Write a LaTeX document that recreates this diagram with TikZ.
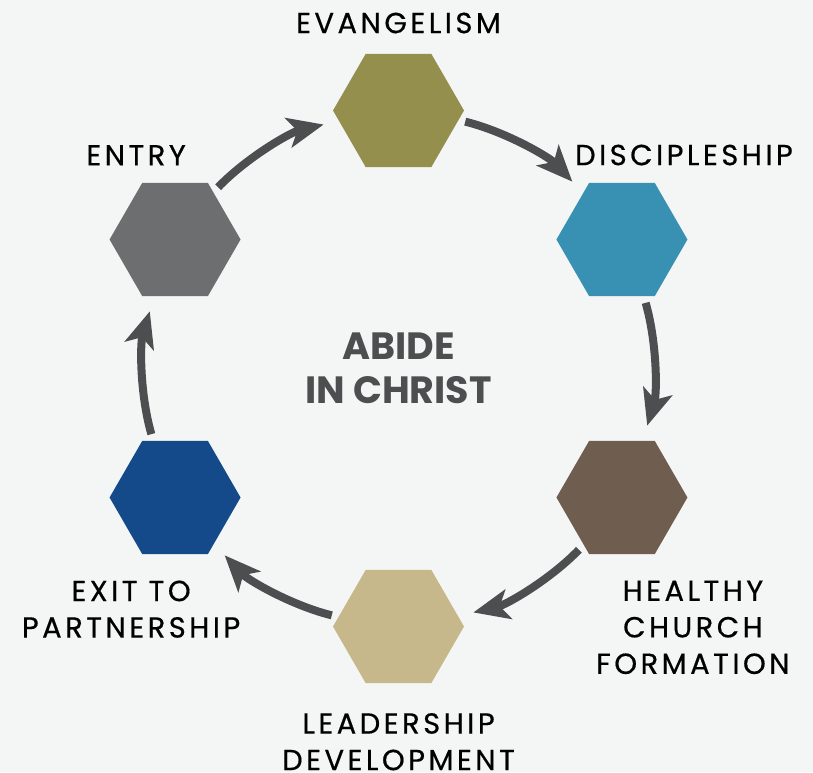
\documentclass[tikz,border=0pt]{standalone}
\usepackage{fontspec}
\setmainfont{Poppins}
\newfontfamily\labelfont[LetterSpace=12,FakeBold=0.5]{Poppins}
\usetikzlibrary{arrows.meta}
\usetikzlibrary{calc}
\usetikzlibrary{positioning}
\usetikzlibrary{shapes.geometric}
\definecolor{paper}{HTML}{F4F5F5}
\definecolor{arrowgray}{HTML}{4D4E50}
\definecolor{evancol}{HTML}{948F4D}
\definecolor{disccol}{HTML}{3891B2}
\definecolor{healcol}{HTML}{6F5E50}
\definecolor{leadcol}{HTML}{C7B88C}
\definecolor{exitcol}{HTML}{154A8A}
\definecolor{entrycol}{HTML}{6C6E70}

\tikzset{
	hexa/.style={regular polygon, regular polygon sides=6, minimum size=131pt, inner sep=0pt},
	flow/.style={-{Stealth[length=36pt,width=30pt,inset=9pt]}, line width=8pt, arrowgray,
		bend left=16.5, looseness=0.87, shorten <=6.7pt, shorten >=15.6pt},
	lbl/.style={inner sep=0pt, align=center, text=black, font=\labelfont\fontsize{29}{36.5}\selectfont}
}

\begin{document}
\begin{tikzpicture}[x=1pt,y=1pt]
		
			%--- BACKGROUND -------------------------
			
			\fill [paper] (0,0) rectangle (813,772);
			\useasboundingbox (0,0) rectangle (813,772);
			\coordinate (C) at (398.5,403.5);
			
			%--- HEXAGONS ---------------------------
			
			\foreach \name/\col [count=\i from 0] in {evan/evancol,disc/disccol,heal/healcol,lead/leadcol,exit/exitcol,entry/entrycol}{
				\node [hexa, fill=\col] (\name) at ($(C)+(90-60*\i:258)$) {};
			}
			
			%--- ARROWS -----------------------------
			
			\foreach \a/\b [count=\i from 0] in {evan/disc,disc/heal,heal/lead,lead/exit,exit/entry,entry/evan}{
				\pgfmathtruncatemacro\s{mod(90-60*\i-99+720,360)}
				\pgfmathtruncatemacro\e{mod(90-60*\i+40+720,360)}
				\draw [flow] (\a.\s) to (\b.\e);
			}
			
			%--- LABELS -----------------------------
			
			\node [lbl, above=20pt of evan] (evanlbl) {EVANGELISM};
			\node [lbl, above=17pt of disc, xshift=62pt] (disclbl) {DISCIPLESHIP};
			\node [lbl, above=17pt of entry, xshift=-39pt] (entrylbl) {ENTRY};
			\node [lbl, below=26pt of heal, xshift=71pt] (heallbl) {HEALTHY\\CHURCH\\FORMATION};
			\node [lbl, below=26pt of exit, xshift=-44pt] (exitlbl) {EXIT TO\\PARTNERSHIP};
			\node [lbl, below=29.5pt of lead] (leadlbl) {LEADERSHIP\\DEVELOPMENT};
			
			% Centre text
			\node [align=center, text=arrowgray, font=\fontsize{38}{44}\selectfont\bfseries] (abide) at (C) {ABIDE\\IN CHRIST};
			
\end{tikzpicture}
\end{document}
